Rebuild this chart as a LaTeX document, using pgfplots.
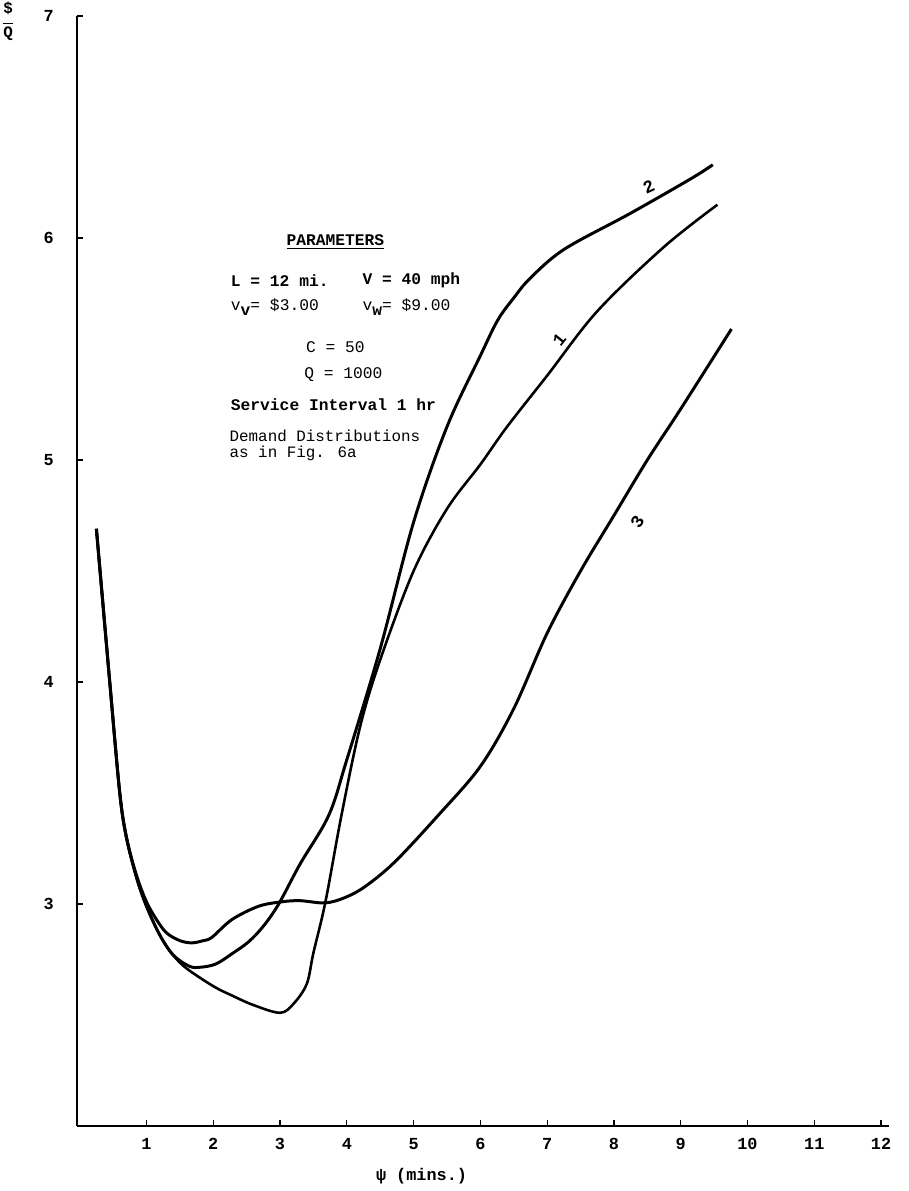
\documentclass[border=0pt]{standalone}
\usepackage{fontspec}
\setmainfont{Liberation Mono}
\usepackage{pgfplots}
\pgfplotsset{compat=1.18}
\begin{document}
\begin{tikzpicture}
\begin{axis}[
  name=ax,
  scale only axis,
  width=408bp, height=557.5bp,
  xmin=-0.045, xmax=12.12,
  ymin=2.0, ymax=7.0,
  axis x line=bottom, axis y line=left,
  axis line style={line width=0.9pt,-},
  xtick={1,2,3,4,5,6,7,8,9,10,11,12},
  ytick={3,4,5,6,7},
  tick align=inside,
  major tick length=3bp,
  tick style={line width=0.6pt,black},
  /pgf/number format/assume math mode=true,
  ticklabel style={font=\bfseries\fontsize{8.5}{10}\selectfont},
  xticklabel style={yshift=-2.5bp},
  yticklabel style={xshift=-8bp},
  clip=false,
  cycle list={{black}},
  every axis plot/.append style={line width=1.5pt, black, smooth, tension=0.55, no marks},
]
% bounding box
\path (rel axis cs:-0.0944,-0.0534) rectangle (rel axis cs:1.0245,1.0144);

% curve 1
\addplot[line width=1.3pt] coordinates {(0.25,4.69)(0.45,4.0)(0.6,3.5)(0.7,3.3)(0.85,3.12)(1.0,2.99)(1.2,2.86)(1.4,2.77)(1.6,2.71)(2.0,2.63)(2.3,2.585)(2.6,2.545)(3.0,2.51)(3.2,2.55)(3.4,2.64)(3.5,2.78)(3.68,3.01)(3.92,3.4)(4.2,3.8)(4.5,4.1)(5,4.5)(5.5,4.78)(6,4.98)(6.4,5.15)(7,5.38)(7.75,5.67)(8.75,5.96)(9.55,6.15)};
% curve 2
\addplot coordinates {(0.25,4.69)(0.45,4.0)(0.6,3.5)(0.7,3.3)(0.85,3.12)(1.0,2.99)(1.2,2.86)(1.4,2.77)(1.64,2.72)(1.8,2.715)(2.04,2.73)(2.3,2.78)(2.53,2.83)(2.75,2.9)(2.98,3.0)(3.3,3.18)(3.73,3.40)(4.0,3.65)(4.5,4.15)(5,4.72)(5.5,5.15)(6,5.47)(6.26,5.63)(6.5,5.73)(6.75,5.82)(7.26,5.95)(8.24,6.11)(9.17,6.27)(9.48,6.33)};
% curve 3
\addplot coordinates {(0.25,4.69)(0.45,4.0)(0.6,3.5)(0.7,3.3)(0.85,3.13)(1.0,3.01)(1.15,2.93)(1.3,2.87)(1.5,2.835)(1.68,2.825)(1.85,2.835)(1.98,2.85)(2.28,2.93)(2.68,2.99)(3.03,3.01)(3.3,3.015)(3.68,3.005)(3.98,3.03)(4.28,3.08)(4.72,3.19)(5.37,3.40)(6,3.62)(6.5,3.88)(7,4.22)(7.5,4.5)(8,4.75)(8.5,5.0)(9,5.23)(9.76,5.59)};

% curve labels
\node[rotate=52,font=\bfseries\fontsize{9}{10}\selectfont] at (axis cs:7.18,5.54) {1};
\node[rotate=25,font=\bfseries\fontsize{9}{10}\selectfont] at (axis cs:8.52,6.23) {2};
\node[rotate=57,font=\bfseries\fontsize{9}{10}\selectfont] at (axis cs:8.35,4.72) {3};

% parameters box
\node[font=\bfseries\fontsize{8.2}{9}\selectfont] at (axis cs:3.83,5.98) {\underline{PARAMETERS}};
\node[anchor=west,font=\bfseries\fontsize{8.2}{9}\selectfont] at (axis cs:2.16,5.81) {L = 12 mi.};
\node[anchor=west,font=\bfseries\fontsize{8.2}{9}\selectfont] at (axis cs:4.13,5.81) {V = 40 mph};
\node[anchor=west,font=\fontsize{8.2}{9}\selectfont] at (axis cs:2.16,5.69) {v\raisebox{-0.6ex}{\bfseries v}= \$3.00};
\node[anchor=west,font=\fontsize{8.2}{9}\selectfont] at (axis cs:4.13,5.69) {v\raisebox{-0.6ex}{\bfseries w}= \$9.00};
\node[font=\fontsize{8.2}{9}\selectfont] at (axis cs:3.83,5.51) {C = 50};
\node[font=\fontsize{8.2}{9}\selectfont] at (axis cs:3.95,5.385) {Q = 1000};
\node[anchor=west,font=\bfseries\fontsize{8.2}{9}\selectfont] at (axis cs:2.16,5.25) {Service Interval 1 hr};
\node[anchor=north west,align=left,inner sep=0pt,font=\fontsize{8}{8}\selectfont] at (axis cs:2.24,5.135) {Demand Distributions\\as in Fig. 6a};

% axis labels
\node[font=\bfseries\fontsize{8.5}{10}\selectfont] at (rel axis cs:0.4245,-0.0455) {ψ (mins.)};
\node[font=\bfseries\fontsize{8}{8}\selectfont,align=center,inner sep=0pt] at (rel axis cs:-0.0845,0.995) {\$\\[-3bp]\rule{5bp}{0.6pt}\\[-1bp]Q};
\end{axis}
\end{tikzpicture}
\end{document}
